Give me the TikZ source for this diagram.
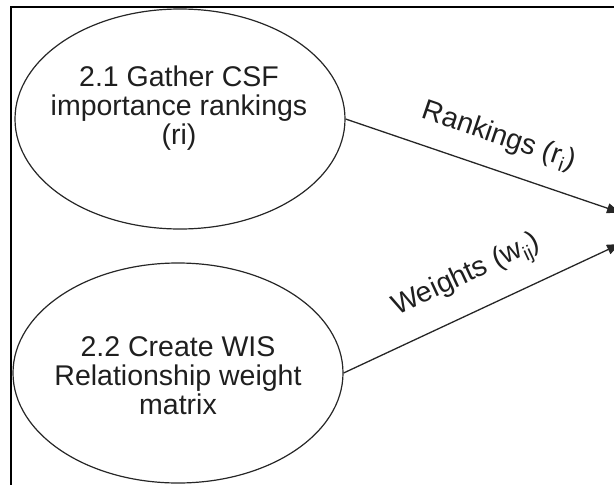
\documentclass[tikz,border=0pt]{standalone}
\usepackage{fontspec}
\setmainfont{Liberation Sans}
\usetikzlibrary{shapes.geometric,arrows.meta}
\tikzset{
  process/.style={draw=black!85, line width=1.2pt, ellipse, inner sep=0pt,
    minimum width=330pt, minimum height=220pt},
  proctext/.style={align=center, inner sep=0pt, text=black!88,
    font=\fontsize{28.5}{29}\selectfont},
  flow/.style={draw=black!85, line width=1.3pt,
    -{Triangle[length=13pt,width=10pt]}},
  flowlabel/.style={sloped, anchor=south, inner sep=0pt, text=black!88,
    font=\fontsize{28.5}{30}\selectfont},
  frame/.style={draw=black, line width=2.2pt}
}
\begin{document}
\begin{tikzpicture}[x=1pt,y=-1pt]
  \useasboundingbox (0,0) rectangle (614,485);
  \clip (0,0) rectangle (614,485);
  % outer frame (right and bottom sides lie off the page)
  \draw[frame] (11,7) rectangle (640,500);

  % processes
  \node[process] (p1) at (180,119) {};
  \node[proctext] (t1) at (179,108) {2.1 Gather CSF\\importance rankings\\(ri)};
  \node[process] (p2) at (178,373) {};
  \node[proctext] (t2) at (178,376) {2.2 Create WIS\\Relationship weight\\matrix};

  % targets of the data flows, just past the right edge
  \coordinate (in1) at (620,212.5);
  \coordinate (in2) at (620,244);

  % data flows
  \draw[flow] (p1.east) -- node[flowlabel, pos=0.52, yshift=19pt] (l1) {Rankings (r\textsubscript{i})} (in1);
  \draw[flow] (p2.east) -- node[flowlabel, pos=0.50, yshift=19pt] (l2) {Weights (w\textsubscript{ij})} (in2);
\end{tikzpicture}
\end{document}
